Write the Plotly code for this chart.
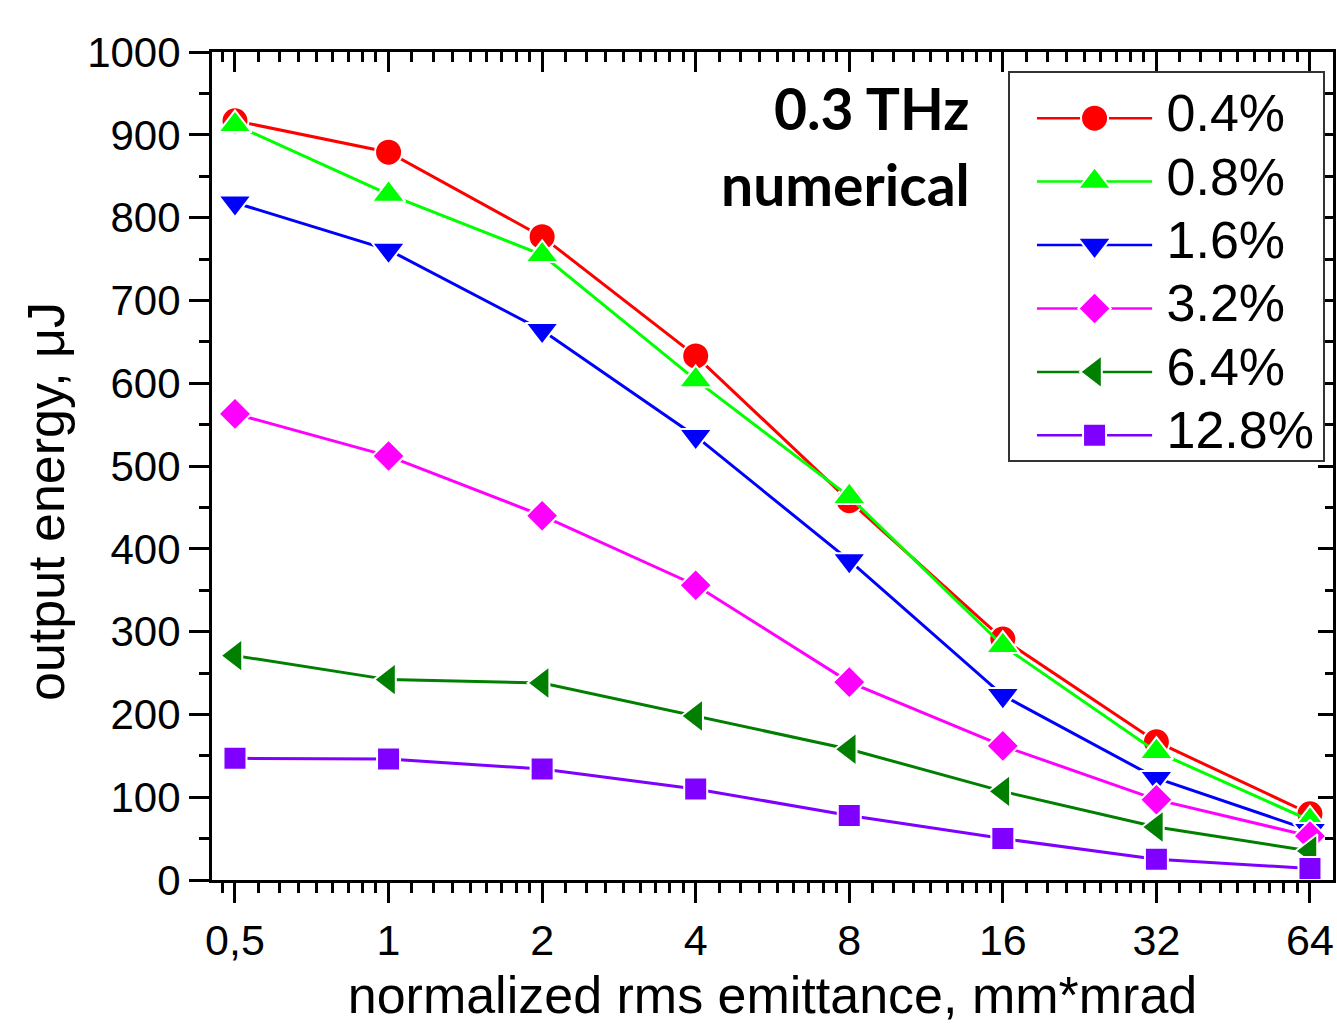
import plotly.graph_objects as go

# ---- data ----
emittance = [0.5, 1, 2, 4, 8, 16, 32, 64]
emittance_labels = ["0,5", "1", "2", "4", "8", "16", "32", "64"]
spread_labels = ["0.4%", "0.8%", "1.6%", "3.2%", "6.4%", "12.8%"]
energy_04 = [917, 879, 777, 633, 458, 291, 167, 80]
energy_08 = [912, 828, 755, 604, 463, 283, 155, 72]
energy_16 = [818, 761, 664, 536, 386, 223, 123, 60]
energy_32 = [563, 512, 440, 356, 239, 162, 97, 53]
energy_64 = [271, 242, 238, 198, 158, 107, 64, 35]
energy_128 = [147, 146, 134, 110, 78, 50, 25, 14]
y_ticks = [0, 100, 200, 300, 400, 500, 600, 700, 800, 900, 1000]

series = [energy_04, energy_08, energy_16, energy_32, energy_64, energy_128]
colors = ["#FF0000", "#00FF00", "#0000FF", "#FF00FF", "#007F00", "#7F00FF"]
symbols = ["circle", "triangle-up", "triangle-down", "diamond", "triangle-left", "square"]
sizes = [27, 29, 29, 25, 29, 23]

FONT = "Liberation Sans, Arial, sans-serif"
XRANGE = [-0.3461, 1.8513]

# minor ticks of the log2 axis (8 linear subdivisions per octave)
octave_bases = [0.25, 0.5, 1, 2, 4, 8, 16, 32]
minor_x = []
for b in octave_bases:
    for k in range(1, 9):
        v = b + k * b / 9.0
        if 0.451 < v < 71.0:
            minor_x.append(v)

fig = go.Figure()

for vals, name, c, s, sz in zip(series, spread_labels, colors, symbols, sizes):
    fig.add_trace(go.Scatter(
        x=emittance, y=vals, name=name, mode="lines+markers",
        line=dict(color=c, width=3),
        marker=dict(symbol=s, size=sz, color=c, line=dict(color="white", width=2)),
        showlegend=False, cliponaxis=False,
    ))

# invisible trace to anchor mirrored axes
fig.add_trace(go.Scatter(x=[emittance[0]], y=[y_ticks[0]], xaxis="x2", yaxis="y2",
                         mode="markers", marker=dict(opacity=0), showlegend=False,
                         hoverinfo="skip"))

# ---- custom legend drawn in its own small subplot ----
legend_line_x = [0.086, 0.454]
legend_marker_x = 0.27
legend_text_x = 0.50
for i, (name, c, s, sz) in enumerate(zip(spread_labels, colors, symbols, sizes)):
    fig.add_trace(go.Scatter(x=legend_line_x, y=[i, i], xaxis="x3", yaxis="y3",
                             mode="lines", line=dict(color=c, width=2.5),
                             showlegend=False, hoverinfo="skip"))
    fig.add_trace(go.Scatter(x=[legend_marker_x], y=[i], xaxis="x3", yaxis="y3",
                             mode="markers",
                             marker=dict(symbol=s, size=sz, color=c,
                                         line=dict(color="white", width=2)),
                             showlegend=False, hoverinfo="skip"))
    fig.add_trace(go.Scatter(x=[legend_text_x], y=[i], xaxis="x3", yaxis="y3",
                             mode="text", text=[name], textposition="middle right",
                             textfont=dict(family=FONT, size=52, color="black"),
                             showlegend=False, hoverinfo="skip"))

axis_common = dict(showline=True, linecolor="black", linewidth=3,
                   showgrid=False, zeroline=False, tickcolor="black", tickwidth=3)

fig.update_layout(
    width=1337, height=1024,
    margin=dict(l=212, r=4, t=52, b=144),
    paper_bgcolor="white", plot_bgcolor="white",
    showlegend=False,
    font=dict(family=FONT, color="black"),
    xaxis=dict(
        type="log", range=XRANGE,
        tickmode="array", tickvals=emittance, ticktext=emittance_labels,
        ticks="outside", ticklen=20,
        tickfont=dict(family=FONT, size=43, color="black"),
        minor=dict(tickmode="array", tickvals=minor_x, ticks="outside", ticklen=10,
                   tickcolor="black", tickwidth=3),
        title=dict(text="normalized rms emittance, mm*mrad",
                   font=dict(family=FONT, size=52, color="black"), standoff=18),
        **axis_common,
    ),
    xaxis2=dict(
        type="log", range=XRANGE, overlaying="x", side="top", anchor="y",
        tickmode="array", tickvals=emittance, showticklabels=False,
        ticks="inside", ticklen=20,
        minor=dict(tickmode="array", tickvals=minor_x, ticks="inside", ticklen=10,
                   tickcolor="black", tickwidth=3),
        **axis_common,
    ),
    yaxis=dict(
        range=[0, 1000], tickmode="array", tickvals=y_ticks,
        ticks="outside", ticklen=20,
        tickfont=dict(family=FONT, size=42, color="black"),
        minor=dict(dtick=50, tick0=0, ticks="outside", ticklen=10,
                   tickcolor="black", tickwidth=3),
        ticklabelstandoff=0,
        **axis_common,
    ),
    yaxis2=dict(
        range=[0, 1000], overlaying="y", side="right", anchor="x",
        tickmode="array", tickvals=y_ticks, showticklabels=False,
        ticks="inside", ticklen=15,
        minor=dict(dtick=50, tick0=0, ticks="inside", ticklen=8,
                   tickcolor="black", tickwidth=3),
        **axis_common,
    ),
    xaxis3=dict(domain=[0.7119, 0.9911], anchor="y3", range=[0, 1],
                showline=True, mirror=True, linecolor="#333333", linewidth=1.5,
                showgrid=False, zeroline=False, showticklabels=False, ticks=""),
    yaxis3=dict(domain=[0.5072, 0.9746], anchor="x3", range=[5.39, -0.712],
                showline=True, mirror=True, linecolor="#333333", linewidth=1.5,
                showgrid=False, zeroline=False, showticklabels=False, ticks=""),
    annotations=[
        dict(text="output energy, \u03bcJ", xref="paper", yref="paper", x=0, y=0.4565,
             xshift=-166, xanchor="center", yanchor="middle", textangle=-90,
             showarrow=False, font=dict(family=FONT, size=52, color="black")),
        dict(text="<b>0.3 THz</b>", xref="paper", yref="paper", x=0.678, y=0.932,
             xanchor="right", yanchor="middle", showarrow=False,
             font=dict(family="Lato, Open Sans, sans-serif", size=57, color="black")),
        dict(text="<b>numerical</b>", xref="paper", yref="paper", x=0.678, y=0.841,
             xanchor="right", yanchor="middle", showarrow=False,
             font=dict(family="Lato, Open Sans, sans-serif", size=57, color="black")),
    ],
)

fig.write_html("out.html", config={"displayModeBar": False},
               post_script="document.body.style.margin='0';document.body.style.overflow='hidden';")
